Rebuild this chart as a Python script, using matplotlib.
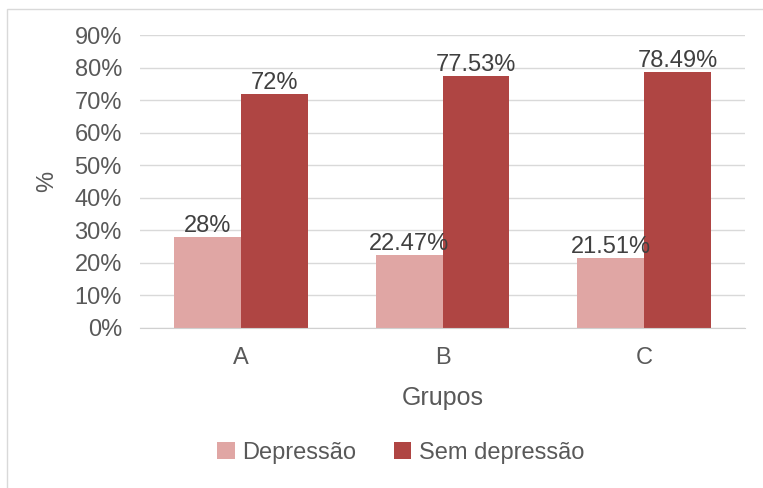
import numpy as np
import matplotlib.pyplot as plt
from matplotlib.patches import Rectangle

grupos = ["A", "B", "C"]
depressao = [28.0, 22.47, 21.51]
sem_depressao = [72.0, 77.53, 78.49]
rotulos_dep = ["28%", "22.47%", "21.51%"]
rotulos_sem = ["72%", "77.53%", "78.49%"]

cor_dep = "#E0A6A4"
cor_sem = "#AF4543"
cinza_txt = "#595959"

plt.rcParams["font.family"] = ["Liberation Sans", "DejaVu Sans"]

fig = plt.figure(figsize=(7.63, 4.88), dpi=100)
# moldura clara em volta do gráfico
fig.patches.append(Rectangle((7 / 763, -0.01), 1.0, 1 - 9 / 488 + 0.01,
                             transform=fig.transFigure, fill=False,
                             edgecolor="#d9d9d9", linewidth=1.0))

ax = fig.add_axes([140 / 763, 1 - 328 / 488, 605 / 763, (328 - 35) / 488])

x = np.arange(len(grupos))
w = 0.332
b1 = ax.bar(x - w / 2, depressao, w, color=cor_dep, label="Depressão", zorder=2)
b2 = ax.bar(x + w / 2, sem_depressao, w, color=cor_sem, label="Sem depressão", zorder=2)

for barras, rotulos in [(b1, rotulos_dep), (b2, rotulos_sem)]:
    for rect, txt in zip(barras, rotulos):
        ax.text(rect.get_x() + rect.get_width() / 2, rect.get_height(), txt,
                ha="center", va="bottom", fontsize=17, color="#404040", zorder=3)

ax.set_xlim(-0.5, 2.5)
ax.set_ylim(0, 90)
ax.set_yticks(np.arange(0, 91, 10))
ax.set_yticklabels([f"{v}%" for v in range(0, 91, 10)])
ax.set_xticks(x)
ax.set_xticklabels(grupos)
ax.tick_params(axis="both", length=0, labelsize=17, labelcolor=cinza_txt)
ax.tick_params(axis="y", pad=13)
ax.tick_params(axis="x", pad=14)
ax.grid(axis="y", color="#d9d9d9", linewidth=1.0, zorder=0)
for s in ["top", "right", "left"]:
    ax.spines[s].set_visible(False)
ax.spines["bottom"].set_color("#d0d0d0")

ax.set_xlabel("Grupos", fontsize=18, color=cinza_txt, labelpad=12)
ax.set_ylabel("%", fontsize=17, color=cinza_txt, labelpad=12)

fig.legend(loc="center", bbox_to_anchor=(0.525, 1 - 453 / 488), ncol=2,
           frameon=False, fontsize=17, handlelength=0.75, handleheight=0.75,
           handletextpad=0.3, columnspacing=1.6, labelcolor=cinza_txt)

fig.savefig("out.png", dpi=100)
